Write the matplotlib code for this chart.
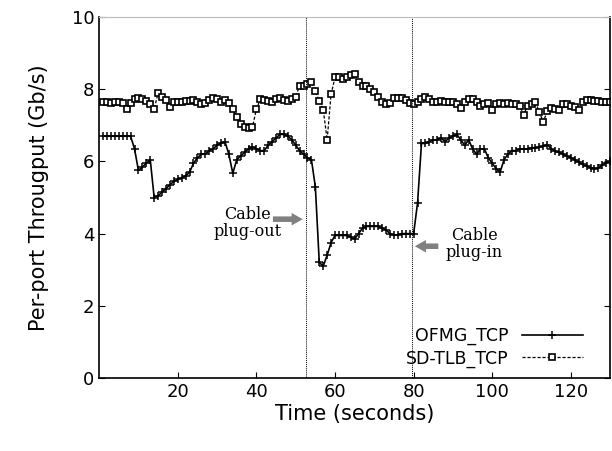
import matplotlib
matplotlib.use("Agg")
import matplotlib.pyplot as plt

# time in seconds
time_s = list(range(1, 131))

ofmg_tcp = [
    6.7, 6.7, 6.7, 6.7, 6.7, 6.7, 6.7, 6.7, 6.35, 5.75,
    5.85, 5.95, 6.05, 5.0, 5.05, 5.15, 5.25, 5.35, 5.45, 5.5,
    5.55, 5.6, 5.7, 5.95, 6.1, 6.2, 6.2, 6.3, 6.35, 6.45,
    6.5, 6.55, 6.2, 5.67, 6.05, 6.15, 6.25, 6.35, 6.4, 6.35,
    6.3, 6.3, 6.45, 6.55, 6.65, 6.75, 6.75, 6.7, 6.6, 6.45,
    6.3, 6.2, 6.1, 6.05, 5.3, 3.2, 3.1, 3.4, 3.75, 3.95,
    3.95, 3.95, 3.95, 3.9, 3.85, 4.0, 4.15, 4.2, 4.2, 4.2,
    4.2, 4.15, 4.1, 4.0, 3.95, 3.97, 4.0, 4.0, 4.0, 4.0,
    4.85, 6.5, 6.5, 6.55, 6.6, 6.6, 6.65, 6.55, 6.65, 6.7,
    6.75, 6.6, 6.45, 6.6, 6.35, 6.2, 6.35, 6.35, 6.1, 5.95,
    5.8, 5.7, 6.05, 6.2, 6.3, 6.3, 6.35, 6.35, 6.35, 6.38,
    6.38, 6.4, 6.42, 6.47, 6.35, 6.28, 6.25, 6.2, 6.15, 6.1,
    6.05, 5.98, 5.92, 5.87, 5.83, 5.8, 5.82, 5.9, 5.97, 6.0,
]

sdtlb_tcp = [
    7.64, 7.64, 7.62, 7.64, 7.66, 7.62, 7.45, 7.62, 7.72, 7.75,
    7.72, 7.68, 7.6, 7.45, 7.9, 7.8, 7.7, 7.5, 7.64, 7.65,
    7.65, 7.67, 7.68, 7.7, 7.65, 7.6, 7.62, 7.7, 7.75, 7.72,
    7.66, 7.7, 7.62, 7.45, 7.22, 7.05, 6.95, 6.92, 6.95, 7.45,
    7.72, 7.7, 7.68, 7.65, 7.72, 7.75, 7.7, 7.68, 7.72, 7.8,
    8.1, 8.08, 8.15, 8.2, 7.94, 7.67, 7.44, 6.6, 7.86, 8.33,
    8.33, 8.28, 8.35, 8.4, 8.42, 8.2, 8.1, 8.08, 8.0, 7.92,
    7.8, 7.65, 7.58, 7.62, 7.75, 7.75, 7.75, 7.7, 7.62, 7.6,
    7.64, 7.72, 7.8, 7.72, 7.64, 7.65, 7.68, 7.66, 7.65, 7.66,
    7.6, 7.47, 7.65, 7.72, 7.72, 7.65, 7.55, 7.6, 7.62, 7.44,
    7.6, 7.62, 7.6, 7.62, 7.6, 7.58, 7.53, 7.3, 7.55, 7.6,
    7.64, 7.36, 7.1, 7.4, 7.48, 7.45, 7.42, 7.58, 7.6, 7.55,
    7.5, 7.44, 7.64, 7.7, 7.7, 7.67, 7.67, 7.66, 7.66, 7.64,
]

# failure window (cable out -> cable in)
window = (52.5, 79.6)

fig = plt.figure(figsize=(6.12, 4.51), dpi=100)
ax = fig.add_axes([0.162, 0.162, 0.835, 0.80])

ax.plot(time_s, ofmg_tcp, color="black", lw=1.2, marker="+", ms=6, mew=1.1,
        label="OFMG_TCP")
ax.plot(time_s, sdtlb_tcp, color="black", lw=0.9, ls=(0, (2.5, 1.5)), marker="s",
        ms=4.8, mew=1.2, mfc="white", label="SD-TLB_TCP")

ax.plot([window[0], window[0], window[1], window[1]], [0, 10, 10, 0],
        color="black", lw=0.7, ls=(0, (1, 1)))

arrow = dict(arrowstyle="simple,head_width=0.9,head_length=0.8,tail_width=0.4",
             color="#808080", lw=0)
ax.annotate("", xy=(window[0], 4.4), xytext=(43.5, 4.4), arrowprops=arrow)
ax.annotate("", xy=(window[1], 3.65), xytext=(87.0, 3.65), arrowprops=arrow)
ax.text(37.8, 4.3, "Cable\nplug-out", ha="center", va="center", fontsize=11.5,
        family="DejaVu Serif", linespacing=1.0)
ax.text(95.5, 3.7, "Cable\nplug-in", ha="center", va="center", fontsize=11.5,
        family="DejaVu Serif", linespacing=1.0)

ax.set_xlim(0, 130)
ax.set_ylim(0, 10)
ax.set_xticks([20, 40, 60, 80, 100, 120])
ax.set_yticks([0, 2, 4, 6, 8, 10])
ax.tick_params(direction="in", labelsize=13, right=True, length=4)
ax.set_xlabel("Time (seconds)", fontsize=15, labelpad=2)
ax.set_ylabel("Per-port Througput (Gb/s)", fontsize=15, labelpad=16)
ax.spines["top"].set_color("#bbbbbb")
for s in ("left", "bottom", "right"):
    ax.spines[s].set_linewidth(1.2)

ax.legend(loc="lower right", frameon=False, markerfirst=False, fontsize=12.5,
          handlelength=3.5, borderaxespad=0.3, labelspacing=0.25,
          bbox_to_anchor=(0.97, -0.005))

fig.savefig("out.png", dpi=100)
